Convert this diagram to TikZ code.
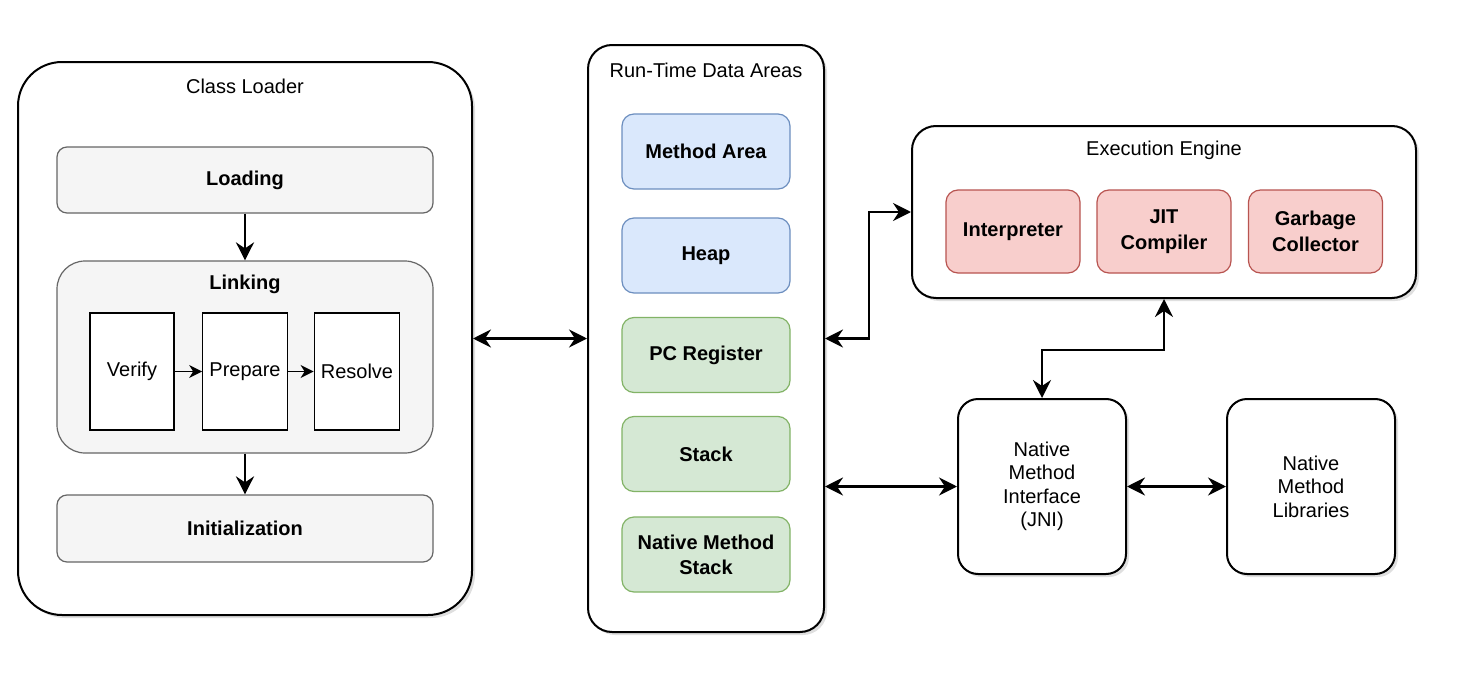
\documentclass[tikz,border=0pt]{standalone}
\usepackage{fontspec}
\setmainfont{Liberation Sans}
\usepackage{tikz}
\usetikzlibrary{arrows.meta,positioning,shadows}
\definecolor{stagefill}{HTML}{F5F5F5}
\definecolor{stageline}{HTML}{666666}
\definecolor{bluefill}{HTML}{DAE8FC}
\definecolor{blueline}{HTML}{6C8EBF}
\definecolor{greenfill}{HTML}{D5E8D4}
\definecolor{greenline}{HTML}{82B366}
\definecolor{redfill}{HTML}{F8CECC}
\definecolor{redline}{HTML}{B85450}
\begin{document}
\begin{tikzpicture}[x=0.5pt,y=-0.5pt,
  font=\fontsize{10}{12}\selectfont,
  outerbox/.style={draw,line width=1pt,fill=white,align=center,
    drop shadow={shadow xshift=1.5pt,shadow yshift=-1.5pt,opacity=0.25}},
  stagebox/.style={draw=stageline,fill=stagefill,line width=0.6pt,
    rounded corners=5pt,minimum width=188pt,font=\fontsize{10}{12}\selectfont\bfseries},
  stepbox/.style={draw,fill=white,line width=0.6pt,minimum width=42pt,minimum height=58.5pt},
  areabox/.style={line width=0.6pt,rounded corners=6pt,minimum width=84pt,minimum height=37.5pt,
    align=center,font=\fontsize{10}{12.5}\selectfont\bfseries},
  bluebox/.style={areabox,draw=blueline,fill=bluefill},
  greenbox/.style={areabox,draw=greenline,fill=greenfill},
  redbox/.style={areabox,draw=redline,fill=redfill,minimum width=67pt,minimum height=41.5pt,
    font=\fontsize{10}{13}\selectfont\bfseries},
  link/.style={line width=1.3pt,-{Stealth[length=9pt,width=9pt,inset=3pt]}},
  dbl/.style={line width=1.3pt,{Stealth[length=9pt,width=9pt,inset=3pt]}-{Stealth[length=9pt,width=9pt,inset=3pt]}},
  small/.style={line width=0.8pt,-{Stealth[length=6.5pt,width=6.5pt,inset=2pt]}}]
\useasboundingbox (0,0) rectangle (1480,680);
\node[outerbox,rounded corners=22pt,minimum width=227pt,minimum height=276.5pt] (loader) at (245,338.5) {};
\node (loadertitle) at (245,86) {Class Loader};
\node[stagebox,minimum height=33pt] (loading) at (245,180) {Loading};
\node[stagebox,rounded corners=14pt,minimum height=96pt] (linking) at (245,357) {};
\node[font=\fontsize{10}{12}\selectfont\bfseries] (linkingtitle) at (245,284) {Linking};
\node[stepbox] (verify) at (132,371.5) {Verify};
\node[stepbox] (prepare) at (245,371.5) {Prepare};
\node[stepbox] (resolve) at (357,371.5) {Resolve};
\node[stagebox,minimum height=33.5pt] (init) at (245,528.5) {Initialization};
\draw[link] (loading) -- (linking);
\draw[link] (linking) -- (init);
\draw[small] (verify) -- (prepare);
\draw[small] (prepare) -- (resolve);

\node[outerbox,rounded corners=12pt,minimum width=118pt,minimum height=293.5pt] (runtime) at (706,338.5) {};
\node (runtimetitle) at (706,70) {Run-Time Data Areas};
\node[bluebox] (method) at (706,151.5) {Method Area};
\node[bluebox] (heap) at (706,255.5) {Heap};
\node[greenbox] (pc) at (706,355) {PC Register};
\node[greenbox] (stack) at (706,454) {Stack};
\node[greenbox] (native) at (706,554.5) {Native Method\\Stack};

\node[outerbox,rounded corners=12pt,minimum width=252pt,minimum height=86pt] (engine) at (1164,212) {};
\node (enginetitle) at (1164,150) {Execution Engine};
\node[redbox] (interp) at (1013,231.5) {Interpreter};
\node[redbox] (jit) at (1164,231.5) {JIT\\Compiler};
\node[redbox] (gc) at (1315.5,231.5) {Garbage\\Collector};

\node[outerbox,rounded corners=10pt,minimum width=84pt,minimum height=87.5pt,
  font=\fontsize{10}{11.75}\selectfont] (jni) at (1042,486.5) {Native\\Method\\Interface\\(JNI)};
\node[outerbox,rounded corners=10pt,minimum width=84pt,minimum height=87.5pt,
  font=\fontsize{10}{11.75}\selectfont] (libs) at (1311,486.5) {Native\\Method\\Libraries};

\draw[dbl] (loader) -- (runtime);
\draw[dbl] (runtime.east) -- ++(44,0) |- (engine.west);
\draw[dbl] (engine.south) -- ++(0,51) -| (jni.north);
\draw[dbl] (runtime.east |- jni.west) -- (jni.west);
\draw[dbl] (jni) -- (libs);
\end{tikzpicture}
\end{document}
